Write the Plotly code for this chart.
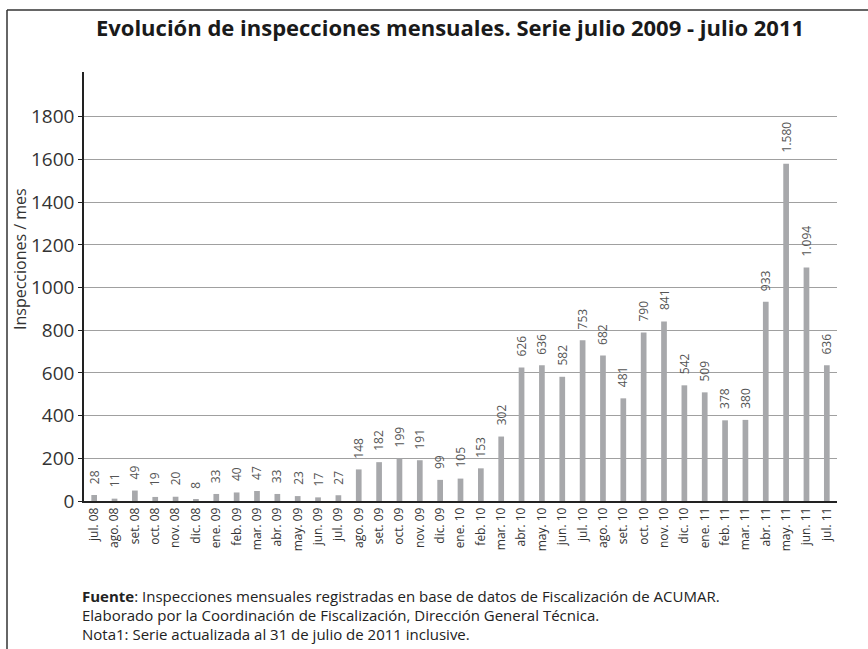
import plotly.graph_objects as go

months = ["jul. 08", "ago. 08", "set. 08", "oct. 08", "nov. 08", "dic. 08",
          "ene. 09", "feb. 09", "mar. 09", "abr. 09", "may. 09", "jun. 09",
          "jul. 09", "ago. 09", "set. 09", "oct. 09", "nov. 09", "dic. 09",
          "ene. 10", "feb. 10", "mar. 10", "abr. 10", "may. 10", "jun. 10",
          "jul. 10", "ago. 10", "set. 10", "oct. 10", "nov. 10", "dic. 10",
          "ene. 11", "feb. 11", "mar. 11", "abr. 11", "may. 11", "jun. 11",
          "jul. 11"]
inspecciones = [28, 11, 49, 19, 20, 8,
                33, 40, 47, 33, 23, 17,
                27, 148, 182, 199, 191, 99,
                105, 153, 302, 626, 636, 582,
                753, 682, 481, 790, 841, 542,
                509, 378, 380, 933, 1580, 1094,
                636]
y_ticks = [0, 200, 400, 600, 800, 1000, 1200, 1400, 1600, 1800]

title = "<b>Evolución de inspecciones mensuales. Serie julio 2009 - julio 2011</b>"
y_title = "Inspecciones / mes"
notes = ["<b>Fuente</b>: Inspecciones mensuales registradas en base de datos de Fiscalización de ACUMAR.",
         "Elaborado por la Coordinación de Fiscalización, Dirección General Técnica.",
         "Nota1: Serie actualizada al 31 de julio de 2011 inclusive."]

W, H = 868, 649
L, R, T, B = 84, 31, 72, 148
PW, PH = W - L - R, H - T - B

def px(x):
    return (x - L) / PW

def py(y):
    return (H - B - y) / PH

FONT = "Open Sans"

fig = go.Figure(go.Bar(
    x=months, y=inspecciones,
    marker=dict(color="#a7a8ab", line=dict(width=0)),
    cliponaxis=False,
))

fig.update_layout(
    width=W, height=H,
    margin=dict(l=L, r=R, t=T, b=B),
    paper_bgcolor="white", plot_bgcolor="white",
    bargap=0.72,
    showlegend=False,
    title=dict(text=title, x=450 / W, xanchor="center", y=1 - 28 / H, yanchor="middle",
               font=dict(family=FONT, size=22, color="#1a1a1a")),
    xaxis=dict(
        tickangle=-90, showgrid=False, ticks="",
        showline=True, linecolor="#222222", linewidth=1.5,
        tickfont=dict(family=FONT, size=12, color="#333333"),
        range=[-0.5, len(months) - 0.5],
    ),
    yaxis=dict(
        range=[0, 2010], tickvals=y_ticks,
        showgrid=True, gridcolor="#a0a0a0", gridwidth=1,
        zeroline=False,
        showline=True, linecolor="#222222", linewidth=1.5,
        ticks="outside", ticklen=4, tickcolor="#222222",
        tickfont=dict(family=FONT, size=19, color="#333333"),
    ),
)

annotations = []
for m, v in zip(months, inspecciones):
    annotations.append(dict(text=f"{v:,}".replace(",", "."), x=m, y=v, xref="x", yref="y",
                            textangle=-90, showarrow=False, xanchor="center", yanchor="bottom",
                            yshift=9,
                            font=dict(family=FONT, size=12, color="#555555")))
annotations.append(dict(text=y_title, xref="paper", yref="paper", x=px(20), y=py(259),
                        textangle=-90, showarrow=False, xanchor="center", yanchor="middle",
                        font=dict(family=FONT, size=16, color="#333333")))
for i, line in enumerate(notes):
    annotations.append(dict(text=line, xref="paper", yref="paper", x=px(80), y=py(596 + 19 * i),
                            showarrow=False, xanchor="left", yanchor="middle",
                            font=dict(family=FONT, size=15, color="#222222")))
fig.update_layout(annotations=annotations)

fig.update_layout(shapes=[
    dict(type="line", xref="paper", yref="paper", x0=px(7), x1=px(W), y0=py(10), y1=py(10),
         line=dict(color="#333333", width=1.5)),
    dict(type="line", xref="paper", yref="paper", x0=px(7), x1=px(7), y0=py(10), y1=py(H),
         line=dict(color="#333333", width=1.5)),
])

fig.write_html("out.html", config={"displayModeBar": False},
               post_script="document.body.style.margin='0';document.body.style.overflow='hidden';")
